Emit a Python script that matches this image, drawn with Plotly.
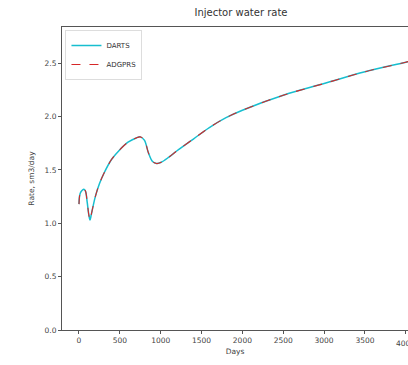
import plotly.graph_objects as go

days = [0, 8, 20, 40, 60, 80, 100, 120, 135, 150, 200, 250, 300, 400, 500, 600, 700, 750, 800, 850, 900, 950, 1000, 1100, 1200, 1400, 1600, 1800, 2000, 2500, 3000, 3500, 4000, 4100]
darts = [1.18, 1.26, 1.29, 1.31, 1.32, 1.30, 1.20, 1.08, 1.03, 1.08, 1.25, 1.37, 1.46, 1.60, 1.69, 1.76, 1.80, 1.81, 1.78, 1.66, 1.58, 1.56, 1.57, 1.62, 1.68, 1.79, 1.90, 1.99, 2.06, 2.20, 2.31, 2.42, 2.51, 2.53]
adgprs = list(darts)

x_ticks = [0, 500, 1000, 1500, 2000, 2500, 3000, 3500, 4000]
y_ticks = [0.0, 0.5, 1.0, 1.5, 2.0, 2.5]

fig = go.Figure()
fig.add_trace(go.Scatter(x=days, y=darts, mode="lines", name="DARTS",
                         line=dict(color="#17becf", width=1.5, shape="spline")))
fig.add_trace(go.Scatter(x=days, y=adgprs, mode="lines", name="ADGPRS",
                         line=dict(color="#d62728", width=1.1, dash="dash", shape="spline")))

fnt = dict(family="DejaVu Sans", size=7.5, color="#444")
fig.update_layout(
    width=408, height=365,
    margin=dict(l=62, r=0, t=27, b=35),
    paper_bgcolor="white", plot_bgcolor="white",
    font=fnt,
    title=dict(text="Injector water rate", x=241/408, xref="container", xanchor="center",
               y=1-12/365, yref="container", yanchor="middle",
               font=dict(family="DejaVu Sans", size=10, color="#333")),
    xaxis=dict(range=[-208, 4027], tickvals=x_ticks, ticktext=[str(v) for v in x_ticks],
               showgrid=False, zeroline=False, showline=True, linecolor="#555", linewidth=1,
               mirror=True, ticks="outside", ticklen=3, tickcolor="#555",
               title=dict(text="Days", standoff=4, font=fnt)),
    yaxis=dict(range=[0, 2.84], tickvals=y_ticks, ticktext=[f"{v:.1f}" for v in y_ticks],
               showgrid=False, zeroline=False, showline=True, linecolor="#555", linewidth=1,
               ticks="outside", ticklen=3, tickcolor="#555",
               title=dict(text="Rate, sm3/day", standoff=8, font=fnt)),
    legend=dict(x=0.01, y=0.99, xanchor="left", yanchor="top", bgcolor="rgba(255,255,255,0.8)",
                bordercolor="#ddd", borderwidth=1, itemwidth=30, tracegroupgap=0,
                font=dict(family="DejaVu Sans", size=7, color="#333")),
    showlegend=True,
)
fig.add_annotation(x=x_ticks[-1], y=0, xref="x", yref="y", text=str(x_ticks[-1]),
                   showarrow=False, yshift=-13, font=fnt, xanchor="center", yanchor="middle")

fig.write_html("out.html")
